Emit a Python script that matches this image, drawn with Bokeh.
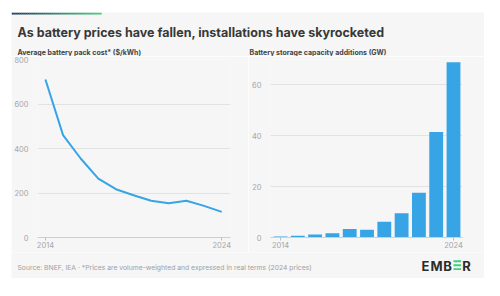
from bokeh.plotting import figure
from bokeh.layouts import column, row
from bokeh.models import Range1d, FixedTicker
from bokeh.core.properties import value
from bokeh.embed import file_html
from bokeh.resources import INLINE

# --- data ---
years = [2014, 2015, 2016, 2017, 2018, 2019, 2020, 2021, 2022, 2023, 2024]
pack_cost = [710, 460, 355, 265, 217, 190, 165, 154, 165, 142, 115]
storage_gw = [0.4, 0.65, 1.2, 1.7, 3.3, 3.0, 6.2, 9.5, 17.6, 41.5, 68.9]
cost_ticks = [0, 200, 400, 600, 800]
gw_ticks = [0, 20, 40, 60]
year_ticks = [2014, 2024]

title_text = "As battery prices have fallen, installations have skyrocketed"
left_subtitle = "Average battery pack cost* ($/kWh)"
right_subtitle = "Battery storage capacity additions (GW)"
source_text = "Source: BNEF, IEA \u00b7 *Prices are volume-weighted and expressed in real terms (2024 prices)"

BG = "#f6f6f6"
BLUE = "#36a4e5"
GRID = "#e2e2e2"
TICK_COL = "#a6a6a6"
FONT = "Inter"

PANEL_W = 473


def blank(width, height):
    f = figure(width=width, height=height, x_range=Range1d(0, width),
               y_range=Range1d(height, 0), toolbar_location=None,
               output_backend="svg", min_border=0, title=None)
    f.axis.visible = False
    f.grid.visible = False
    f.outline_line_color = None
    f.background_fill_color = BG
    f.border_fill_color = BG
    return f


# header: accent bar, title and chart subtitles
header = blank(PANEL_W, 44)
start = (0x1c, 0x37, 0x5c)
end = (0x45, 0xc8, 0x7c)
n = 45
for i in range(n):
    t = i / (n - 1)
    c = tuple(int(round(a + (b - a) * t)) for a, b in zip(start, end))
    header.quad(left=i * 2, right=i * 2 + 2.2, top=0, bottom=2,
                fill_color="#%02x%02x%02x" % c, line_color=None)
header.text(x=[6], y=[20], text=[title_text], text_font=value(FONT),
            text_font_size="12.5px", text_font_style="bold",
            text_color="#383838", text_baseline="alphabetic")
header.text(x=[6, 238], y=[40, 40], text=[left_subtitle, right_subtitle],
            text_font=value(FONT), text_font_size="7px", text_font_style="bold",
            text_color="#444444", text_baseline="alphabetic")


def style_chart(p):
    p.background_fill_color = BG
    p.border_fill_color = BG
    p.outline_line_color = None
    p.xgrid.visible = False
    p.ygrid.grid_line_color = GRID
    p.ygrid.grid_line_width = 1
    p.yaxis.axis_line_color = None
    p.yaxis.major_tick_line_color = None
    p.yaxis.minor_tick_line_color = None
    p.yaxis.major_label_standoff = 3
    p.xaxis.axis_line_color = "#cfcfcf"
    p.xaxis.major_tick_line_color = "#bdbdbd"
    p.xaxis.major_tick_out = 3
    p.xaxis.major_tick_in = 0
    p.xaxis.minor_tick_line_color = None
    p.xaxis.major_label_standoff = 1
    for ax in (p.xaxis, p.yaxis):
        ax.major_label_text_font = FONT
        ax.major_label_text_font_size = "7.5px"
        ax.major_label_text_color = TICK_COL
    p.xaxis.ticker = FixedTicker(ticks=year_ticks)


# left chart: pack cost line
left = figure(width=237, height=196, x_range=Range1d(2013.55, 2024.5),
              y_range=Range1d(0, 800), toolbar_location=None,
              output_backend="svg", min_border_left=24, min_border_right=18,
              min_border_top=3, min_border_bottom=15, title=None)
style_chart(left)
left.yaxis.ticker = FixedTicker(ticks=cost_ticks)
left.line(years, pack_cost, line_color=BLUE, line_width=2)

# right chart: capacity additions bars
right = figure(width=236, height=196, x_range=Range1d(2013.42, 2024.52),
               y_range=Range1d(0, 70), toolbar_location=None,
               output_backend="svg", min_border_left=17, min_border_right=22,
               min_border_top=3, min_border_bottom=15, title=None)
style_chart(right)
right.yaxis.ticker = FixedTicker(ticks=gw_ticks)
right.vbar(x=years, top=storage_gw, width=0.8, fill_color=BLUE, line_color=None)

# footer: source note and logo
footer = blank(PANEL_W, 26)
footer.text(x=[6], y=[15], text=[source_text], text_font=value(FONT),
            text_font_size="6.8px", text_color="#a0a0a0", text_baseline="middle")
# logo letters placed one by one for the wide spacing
footer.text(x=[414, 425, 436, 455], y=[13, 13, 13, 13], text=["E", "M", "B", "R"],
            text_font=value(FONT), text_font_size="13px", text_font_style="bold",
            text_color="#2b2b2b", text_baseline="middle", text_align="center")
for yy in (8.8, 12.7, 16.6):
    footer.quad(left=442, right=449.5, top=yy - 0.95, bottom=yy + 0.95,
                fill_color="#3ccf7e", line_color=None)

layout = column(header, row(left, right, spacing=0), footer,
                spacing=0, margin=(12, 0, 0, 11))

open("out.html", "w").write(file_html(layout, INLINE))
